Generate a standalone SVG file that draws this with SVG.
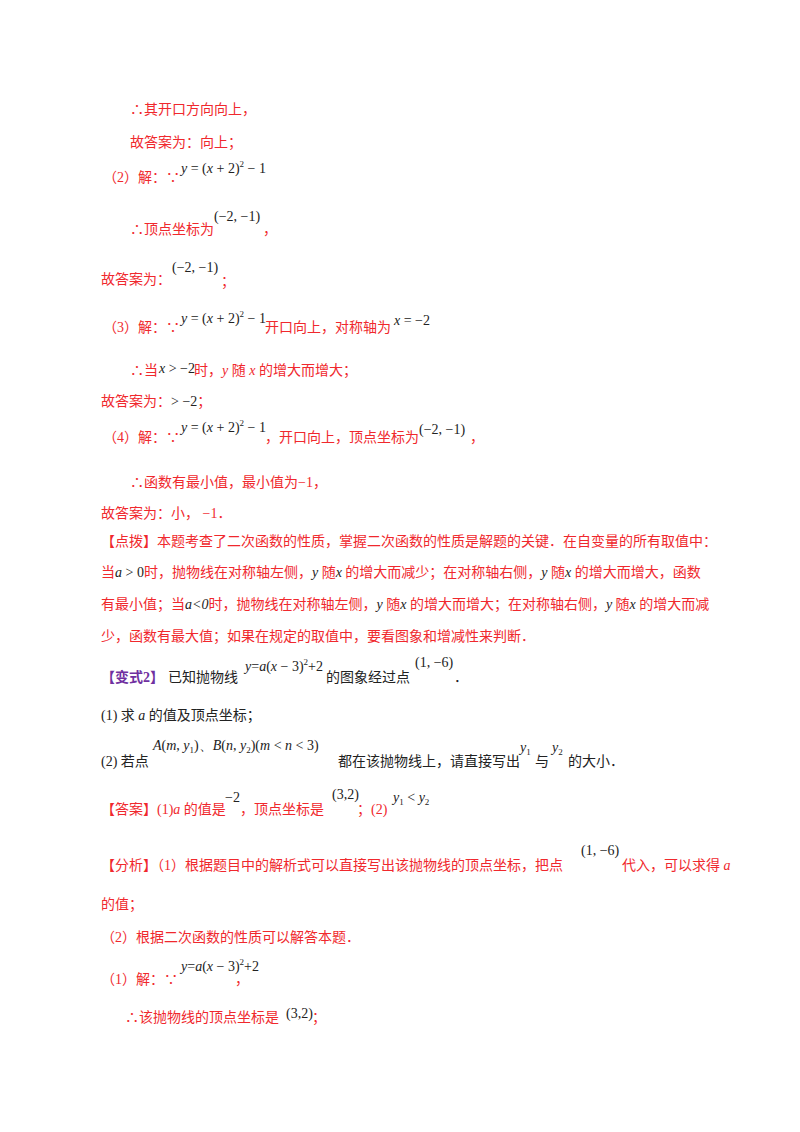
<svg xmlns="http://www.w3.org/2000/svg" width="800" height="1132" viewBox="0 0 800 1132">
<style>
text{font-family:"Liberation Serif","Noto Sans CJK SC",serif;font-size:14px}
.r{fill:#f0282d}
.k{fill:#222}
.p{fill:#7030a0;font-weight:bold}
.m{font-family:"Liberation Serif",serif;fill:#222;font-size:14px}
.i{font-style:italic}
.s{font-size:9px}
</style>
<rect width="800" height="1132" fill="#fff"/>
<g id="text">
<text class="r" x="130" y="114">∴其开口方向向上，</text>
<text class="r" x="130" y="147">故答案为：向上；</text>
<text class="r" x="103" y="182">（2）解：∵</text>
<text class="m" x="181" y="173"><tspan class="i">y</tspan> = (<tspan class="i">x</tspan> + 2)<tspan class="s" dy="-6">2</tspan><tspan dy="6"> − 1</tspan></text>
<text class="r" x="130" y="234">∴顶点坐标为</text>
<text class="m" x="214" y="221">(−2, −1)</text>
<text class="r" x="263" y="234">，</text>
<text class="r" x="101" y="284">故答案为：</text>
<text class="m" x="172" y="272">(−2, −1)</text>
<text class="r" x="221" y="286">；</text>
<text class="r" x="103" y="332">（3）解：∵</text>
<text class="m" x="181" y="323"><tspan class="i">y</tspan> = (<tspan class="i">x</tspan> + 2)<tspan class="s" dy="-6">2</tspan><tspan dy="6"> − 1</tspan></text>
<text class="r" x="265" y="332">开口向上，对称轴为</text>
<text class="m" x="394" y="325"><tspan class="i">x</tspan> = −2</text>
<text class="r" x="130" y="375">∴当</text>
<text class="m" x="159" y="373"><tspan class="i">x</tspan> &gt; −2</text>
<text class="r" x="194" y="375">时，<tspan class="i">y</tspan> 随 <tspan class="i">x</tspan> 的增大而增大；</text>
<text class="r" x="101" y="406">故答案为：<tspan fill="#222">&gt; −2</tspan>；</text>
<text class="r" x="103" y="442">（4）解：∵</text>
<text class="m" x="181" y="432"><tspan class="i">y</tspan> = (<tspan class="i">x</tspan> + 2)<tspan class="s" dy="-6">2</tspan><tspan dy="6"> − 1</tspan></text>
<text class="r" x="265" y="442">，开口向上，顶点坐标为</text>
<text class="m" x="419" y="434">(−2, −1)</text>
<text class="r" x="470" y="442">，</text>
<text class="r" x="130" y="487">∴函数有最小值，最小值为−1，</text>
<text class="r" x="101" y="518">故答案为：小，  −1．</text>
<text class="r" x="101" y="546">【点拨】本题考查了二次函数的性质，掌握二次函数的性质是解题的关键．在自变量的所有取值中：</text>
<text class="r" x="101" y="577">当<tspan class="i" fill="#222">a</tspan><tspan fill="#222"> &gt; 0</tspan>时，抛物线在对称轴左侧，<tspan class="i" fill="#222">y</tspan> 随<tspan class="i" fill="#222">x</tspan> 的增大而减少；在对称轴右侧，<tspan class="i" fill="#222">y</tspan> 随<tspan class="i" fill="#222">x</tspan> 的增大而增大，函数</text>
<text class="r" x="101" y="609">有最小值；当<tspan class="i" fill="#222">a&lt;0</tspan>时，抛物线在对称轴左侧，<tspan class="i" fill="#222">y</tspan> 随<tspan class="i" fill="#222">x</tspan> 的增大而增大；在对称轴右侧，<tspan class="i" fill="#222">y</tspan> 随<tspan class="i" fill="#222">x</tspan> 的增大而减</text>
<text class="r" x="101" y="641">少，函数有最大值；如果在规定的取值中，要看图象和增减性来判断．</text>
<text class="p" x="101" y="682">【变式2】</text>
<text class="k" x="168" y="682">已知抛物线</text>
<text class="m" x="245" y="671"><tspan class="i">y</tspan>=<tspan class="i">a</tspan>(<tspan class="i">x</tspan> − 3)<tspan class="s" dy="-6">2</tspan><tspan dy="6">+2</tspan></text>
<text class="k" x="326" y="682">的图象经过点</text>
<text class="m" x="415" y="667">(1, −6)</text>
<text class="k" x="454" y="682">．</text>
<text class="k" x="101" y="720">(1)  求 <tspan class="i">a</tspan> 的值及顶点坐标；</text>
<text class="k" x="101" y="766">(2)  若点</text>
<text class="m" x="153" y="750"><tspan class="i">A</tspan>(<tspan class="i">m</tspan>,  <tspan class="i">y</tspan><tspan class="s" dy="3">1</tspan><tspan dy="-3">)、</tspan><tspan class="i">B</tspan>(<tspan class="i">n</tspan>,  <tspan class="i">y</tspan><tspan class="s" dy="3">2</tspan><tspan dy="-3">)(</tspan><tspan class="i">m</tspan> &lt; <tspan class="i">n</tspan> &lt; 3)</text>
<text class="k" x="338" y="766">都在该抛物线上，请直接写出</text>
<text class="m" x="520" y="752"><tspan class="i">y</tspan><tspan class="s" dy="3">1</tspan></text>
<text class="k" x="535" y="766">与</text>
<text class="m" x="552" y="752"><tspan class="i">y</tspan><tspan class="s" dy="3">2</tspan></text>
<text class="k" x="568" y="766">的大小．</text>
<text class="r" x="101" y="814">【答案】(1)<tspan class="i">a</tspan> 的值是</text>
<text class="m" x="225" y="802">−2</text>
<text class="r" x="240" y="814">，顶点坐标是</text>
<text class="m" x="332" y="799">(3,2)</text>
<text class="r" x="357" y="814">；(2)</text>
<text class="m" x="393" y="802"><tspan class="i">y</tspan><tspan class="s" dy="3">1</tspan><tspan dy="-3"> &lt; </tspan><tspan class="i">y</tspan><tspan class="s" dy="3">2</tspan></text>
<text class="r" x="101" y="870">【分析】（1）根据题目中的解析式可以直接写出该抛物线的顶点坐标，把点</text>
<text class="m" x="581" y="855">(1, −6)</text>
<text class="r" x="622" y="870">代入，可以求得 <tspan class="i">a</tspan></text>
<text class="r" x="101" y="909">的值；</text>
<text class="r" x="101" y="942">（2）根据二次函数的性质可以解答本题．</text>
<text class="r" x="101" y="984">（1）解：∵</text>
<text class="m" x="181" y="971"><tspan class="i">y</tspan>=<tspan class="i">a</tspan>(<tspan class="i">x</tspan> − 3)<tspan class="s" dy="-6">2</tspan><tspan dy="6">+2</tspan></text>
<text class="r" x="235" y="984">，</text>
<text class="r" x="125" y="1022">∴该抛物线的顶点坐标是</text>
<text class="m" x="286" y="1018">(3,2)</text>
<text class="r" x="312" y="1022">；</text>
</g>
</svg>
